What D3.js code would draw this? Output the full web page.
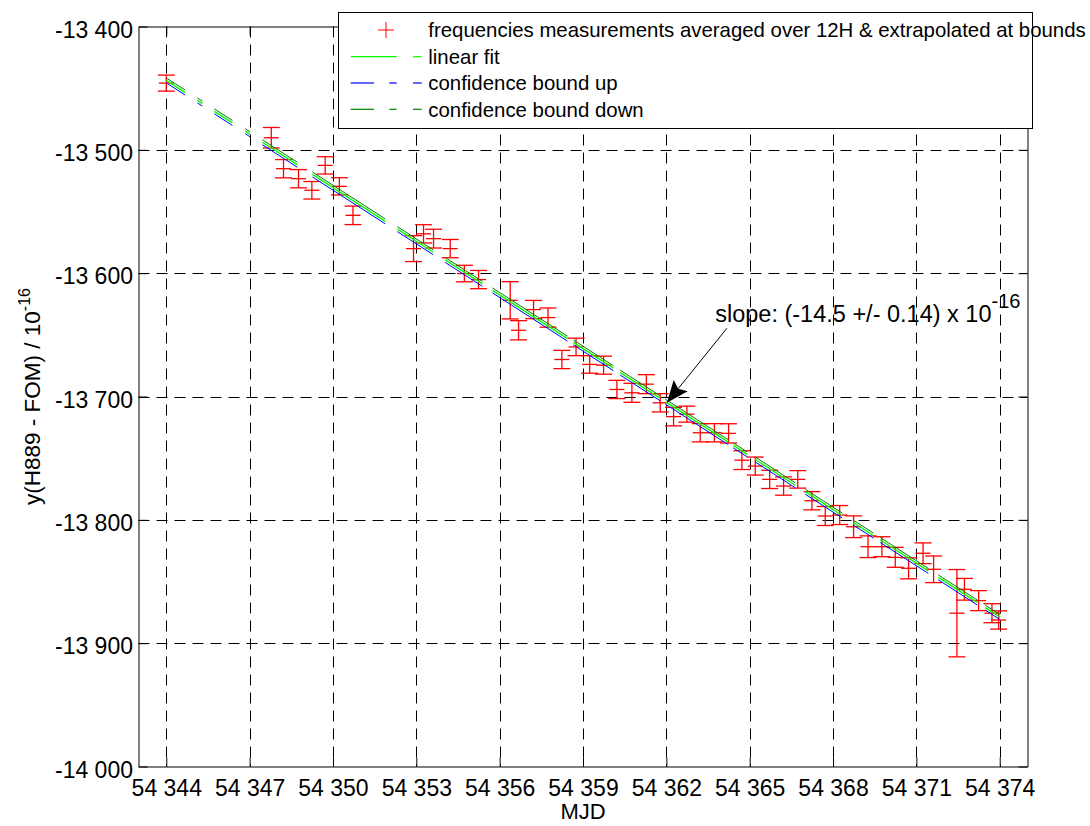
<!DOCTYPE html>
<html>
<head>
<meta charset="utf-8">
<script src="https://cdn.jsdelivr.net/npm/d3@7"></script>
<style>
  body { margin: 0; background: #fff; }
  svg { display: block; font-family: "Liberation Sans", Arial, sans-serif; }
</style>
</head>
<body>
<div id="chart"></div>
<script>
// MJD of each 12H average (first and last are extrapolated at bounds)
const mjd = [
  54344.00, 54347.78, 54348.22, 54348.76, 54349.24, 54349.72, 54350.23, 54350.72,
  54352.90, 54353.26, 54353.62, 54354.22, 54354.73, 54355.24,
  54356.38, 54356.68, 54357.22, 54357.74, 54358.24, 54358.75, 54359.24, 54359.74,
  54360.22, 54360.76, 54361.28, 54361.78, 54362.26, 54362.74, 54363.22, 54363.73,
  54364.24, 54364.72, 54365.20, 54365.72, 54366.22, 54366.73, 54367.24, 54367.72,
  54368.24, 54368.74, 54369.26, 54369.76, 54370.24, 54370.72, 54371.24, 54371.62,
  54372.46, 54372.73, 54373.24, 54373.72, 54373.96
];
// y(H889 - FOM) in 1e-16
const freq = [
  -13445.9, -13490.2, -13515.3, -13523.4, -13532.8, -13512.6, -13529.6, -13553.1,
  -13580.1, -13568.1, -13572.0, -13580.1, -13600.3, -13605.2,
  -13622.0, -13646.3, -13629.5, -13636.0, -13670.0, -13659.8, -13674.0, -13674.6,
  -13694.3, -13697.0, -13690.0, -13705.1, -13716.3, -13714.3, -13729.4, -13729.4,
  -13729.9, -13751.6, -13756.4, -13767.2, -13772.6, -13767.2, -13784.5, -13796.9,
  -13796.1, -13805.6, -13821.8, -13821.8, -13830.4, -13839.3, -13827.1, -13840.1,
  -13875.7, -13856.3, -13865.5, -13875.7, -13881.2
];
// error bar half-heights
const errs = [
  6.5, 8.3, 7.4, 7.4, 7.1, 7.0, 7.0, 7.5,
  10.5, 7.4, 7.6, 7.4, 6.7, 7.4,
  15.1, 7.8, 7.4, 7.8, 7.4, 7.1, 7.1, 7.3,
  7.4, 7.7, 7.7, 7.4, 7.5, 6.5, 7.4, 7.4,
  7.8, 7.6, 7.3, 7.4, 7.4, 7.1, 7.4, 7.7,
  7.7, 8.8, 8.8, 8.1, 8.1, 8.5, 8.4, 10.8,
  35.4, 8.8, 8.1, 7.7, 7.4
];

// linear fit (value at MJD 54344 and slope per day), drawn where raw data exist
const fitRef = 54344;
const fitIntercept = -13443.7;
const fitSlope = -14.5;
const boundOffset = 2.0;
const fitSegments = [
  [54344.00, 54344.68], [54345.12, 54345.30], [54345.73, 54346.38], [54346.84, 54347.02],
  [54347.46, 54348.72], [54349.26, 54351.88], [54352.32, 54353.61], [54354.04, 54355.38],
  [54355.74, 54358.44], [54358.65, 54360.09], [54360.34, 54361.78], [54361.96, 54364.23],
  [54364.41, 54364.91], [54365.20, 54366.64], [54367.00, 54368.33], [54368.73, 54369.45],
  [54369.70, 54371.43], [54371.79, 54373.19], [54373.48, 54374.02]
];

const xTicks = [54344, 54347, 54350, 54353, 54356, 54359, 54362, 54365, 54368, 54371, 54374];
const yTicks = [-13400, -13500, -13600, -13700, -13800, -13900, -14000];

const legendLabels = [
  "frequencies measurements averaged over 12H & extrapolated at bounds",
  "linear fit",
  "confidence bound up",
  "confidence bound down"
];

const width = 1090, height = 826;
const pLeft = 138.5, pRight = 1027.5, pTop = 26.5, pBottom = 766.5;

const svg = d3.select("#chart").append("svg")
  .attr("width", width)
  .attr("height", height);

const x = d3.scaleLinear().domain([54343, 54375]).range([pLeft, pRight]);
const y = d3.scaleLinear().domain([-14000, -13400]).range([pBottom, pTop]);

const fmt = d3.formatLocale({ decimal: ".", thousands: " ", grouping: [3], currency: ["", ""], minus: "-" }).format(",d");

// grid
const grid = svg.append("g")
  .attr("stroke", "#000")
  .attr("stroke-width", 1)
  .attr("stroke-dasharray", "11,7");
grid.selectAll(".vg").data(xTicks).enter().append("line")
  .attr("x1", d => Math.round(x(d)) + 0.5).attr("x2", d => Math.round(x(d)) + 0.5)
  .attr("y1", pTop).attr("y2", pBottom);
grid.selectAll(".hg").data(yTicks.slice(1, -1)).enter().append("line")
  .attr("y1", d => Math.round(y(d)) + 0.5).attr("y2", d => Math.round(y(d)) + 0.5)
  .attr("x1", pLeft).attr("x2", pRight);

// error bars
const pts = mjd.map((m, i) => ({ m: m, v: freq[i], e: errs[i] }));
const capW = 8.5, mk = 7.5;
const eb = svg.append("g").attr("stroke", "#ff0000").attr("stroke-width", 1.3);
pts.forEach(p => {
  const cx = x(p.m), cy = y(p.v), y1 = y(p.v + p.e), y2 = y(p.v - p.e);
  eb.append("line").attr("x1", cx).attr("x2", cx).attr("y1", y1).attr("y2", y2);
  eb.append("line").attr("x1", cx - capW).attr("x2", cx + capW).attr("y1", y1).attr("y2", y1);
  eb.append("line").attr("x1", cx - capW).attr("x2", cx + capW).attr("y1", y2).attr("y2", y2);
  eb.append("line").attr("x1", cx - mk).attr("x2", cx + mk).attr("y1", cy).attr("y2", cy);
});

// fit and confidence bounds
const fitVal = m => fitIntercept + fitSlope * (m - fitRef);
const line = d3.line().x(d => x(d[0])).y(d => y(d[1]));
const series = [
  { off: -boundOffset, color: "#0000ff", w: 1 },
  { off: boundOffset, color: "#008000", w: 1 },
  { off: 0, color: "#00ff00", w: 1.4 }
];
series.forEach(s => {
  svg.append("g").selectAll("path").data(fitSegments).enter().append("path")
    .attr("d", seg => line(seg.map(m => [m, fitVal(m) + s.off])))
    .attr("fill", "none")
    .attr("stroke", s.color)
    .attr("stroke-width", s.w);
});

// axes (ticks point inward)
const fontSize = 23;
const xAxis = svg.append("g").attr("transform", `translate(0,${pBottom})`)
  .call(d3.axisBottom(x).tickValues(xTicks).tickFormat(fmt).tickSizeInner(-9).tickSizeOuter(0).tickPadding(13));
const yAxis = svg.append("g").attr("transform", `translate(${pLeft},0)`)
  .call(d3.axisLeft(y).tickValues(yTicks).tickFormat(fmt).tickSizeInner(-9).tickSizeOuter(0).tickPadding(5.5));
svg.append("g").attr("transform", `translate(0,${pTop})`)
  .call(d3.axisTop(x).tickValues(xTicks).tickFormat("").tickSizeInner(-9).tickSizeOuter(0));
svg.append("g").attr("transform", `translate(${pRight},0)`)
  .call(d3.axisRight(y).tickValues(yTicks).tickFormat("").tickSizeInner(-9).tickSizeOuter(0));
svg.selectAll(".domain, .tick line").attr("stroke", "#000").attr("stroke-width", 1);
svg.selectAll(".tick text")
  .attr("font-family", "Liberation Sans, Arial, sans-serif")
  .attr("font-size", fontSize)
  .attr("fill", "#000");
yAxis.selectAll(".tick text").attr("dy", "0.47em");

// axis titles
svg.append("text")
  .attr("x", (pLeft + pRight) / 2)
  .attr("y", 819)
  .attr("text-anchor", "middle")
  .attr("font-size", 22)
  .text("MJD");

const yl = svg.append("text")
  .attr("transform", `translate(40,${(pTop + pBottom) / 2}) rotate(-90)`)
  .attr("text-anchor", "middle")
  .attr("font-size", 22.5);
yl.append("tspan").text("y(H889 - FOM) / 10");
yl.append("tspan").attr("dy", -10).attr("font-size", 16).text("-16");

// annotation
const tipM = 54362.02;
const tip = [x(tipM), y(fitVal(tipM))];
const tail = [tip[0] + 60, tip[1] - 74.4];
const ang = Math.atan2(tail[1] - tip[1], tail[0] - tip[0]);
const aLen = 22, aHalf = 9, notch = 4;
const ux = Math.cos(ang), uy = Math.sin(ang), px = -uy, py = ux;
const base = [tip[0] + ux * aLen, tip[1] + uy * aLen];
const inner = [tip[0] + ux * (aLen - notch), tip[1] + uy * (aLen - notch)];
svg.append("line")
  .attr("x1", tail[0]).attr("y1", tail[1])
  .attr("x2", inner[0]).attr("y2", inner[1])
  .attr("stroke", "#000").attr("stroke-width", 1);
svg.append("path")
  .attr("d", `M${tip[0]},${tip[1]} L${base[0] + px * aHalf},${base[1] + py * aHalf} L${inner[0]},${inner[1]} L${base[0] - px * aHalf},${base[1] - py * aHalf} Z`)
  .attr("fill", "#000");

const an = svg.append("text")
  .attr("x", x(54363.76))
  .attr("y", y(-13639.8))
  .attr("font-size", 23.5);
an.append("tspan").text("slope: (-14.5 +/- 0.14) x 10");
an.append("tspan").attr("dy", -14).attr("font-size", 20).text("-16");

// legend
const lg = svg.append("g");
lg.append("rect")
  .attr("x", 338.5).attr("y", 12.5)
  .attr("width", 694).attr("height", 116)
  .attr("fill", "#fff").attr("stroke", "#000").attr("stroke-width", 1);
const rowY = [30, 56.7, 83, 109.3];
const textY = [37, 63.5, 90, 116.5];
lg.append("line").attr("x1", 378).attr("x2", 394).attr("y1", rowY[0]).attr("y2", rowY[0]).attr("stroke", "#ff0000");
lg.append("line").attr("x1", 386).attr("x2", 386).attr("y1", rowY[0] - 8).attr("y2", rowY[0] + 8).attr("stroke", "#ff0000");
const legendSegs = [
  { color: "#00ff00", segs: [[350.7, 396.7], [413, 421.7]] },
  { color: "#0000ff", segs: [[350.7, 374], [389.3, 396.7], [413, 421.7]] },
  { color: "#008000", segs: [[350.7, 374], [389.3, 396.7], [413, 421.7]] }
];
legendSegs.forEach((s, i) => {
  s.segs.forEach(sg => {
    lg.append("line")
      .attr("x1", sg[0]).attr("x2", sg[1])
      .attr("y1", rowY[i + 1]).attr("y2", rowY[i + 1])
      .attr("stroke", s.color).attr("stroke-width", 1.2);
  });
});
lg.selectAll(".lt").data(legendLabels).enter().append("text")
  .attr("x", 428.3)
  .attr("y", (d, i) => textY[i])
  .attr("font-size", 20.4)
  .text(d => d);
</script>
</body>
</html>
